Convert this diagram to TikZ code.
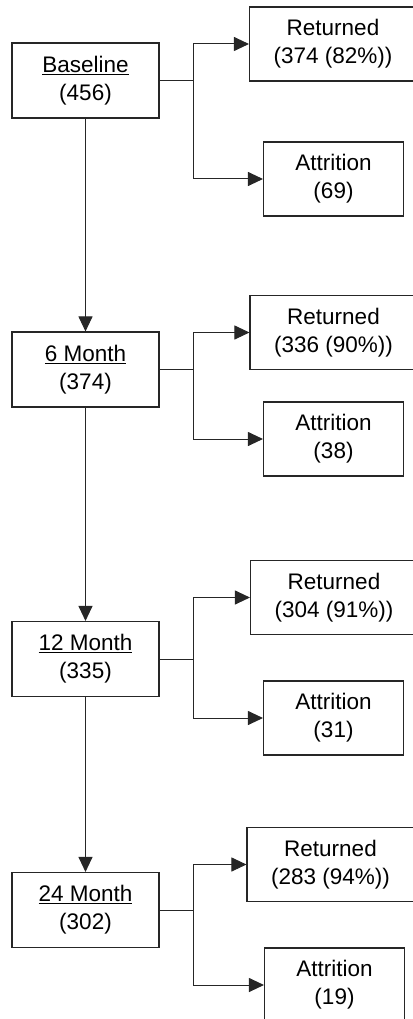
\documentclass[tikz,border=0pt]{standalone}
\usepackage{fontspec}
\setmainfont{Liberation Sans}
\usetikzlibrary{arrows.meta}
\begin{document}
\begin{tikzpicture}[x=1pt,y=-1pt,
  box/.style={draw=black!85,line width=1.1pt,rectangle,align=center,inner sep=0pt,
    font=\fontsize{22.5}{28}\selectfont},
  mainbox/.style={box,minimum width=147pt,minimum height=75pt},
  retbox/.style={box,minimum width=167pt,minimum height=74pt},
  attbox/.style={box,minimum width=140pt,minimum height=74pt},
  conn/.style={draw=black!85,line width=1pt},
  arr/.style={conn,-{Triangle[length=15pt,width=14pt]}}]
\useasboundingbox (0,0) rectangle (412,1019);
% main boxes
\node[mainbox] (m1) at (85.5,80.5) {\underline{Baseline}\\(456)};
\node[mainbox] (m2) at (85.5,369.5) {\underline{6 Month}\\(374)};
\node[mainbox] (m3) at (85.5,659) {\underline{12 Month}\\(335)};
\node[mainbox] (m4) at (85.5,910) {\underline{24 Month}\\(302)};
% returned boxes
\node[retbox] (r1) at (333,44) {Returned\\(374 (82\%))};
\node[retbox] (r2) at (333.5,332.5) {Returned\\(336 (90\%))};
\node[retbox] (r3) at (334,597.5) {Returned\\(304 (91\%))};
\node[retbox] (r4) at (330.5,864.5) {Returned\\(283 (94\%))};
% attrition boxes
\node[attbox] (a1) at (333.5,179) {Attrition\\(69)};
\node[attbox] (a2) at (333.5,439) {Attrition\\(38)};
\node[attbox] (a3) at (333.5,718) {Attrition\\(31)};
\node[attbox] (a4) at (334.5,985) {Attrition\\(19)};
% vertical arrows
\draw[arr] (m1.south) -- (m2.north);
\draw[arr] (m2.south) -- (m3.north);
\draw[arr] (m3.south) -- (m4.north);
% branches
\foreach \i in {1,2,3,4}{
  \draw[conn] (m\i.east) -- ++(34,0) coordinate (j\i);
  \draw[arr] (j\i) |- (r\i.west);
  \draw[arr] (j\i) |- (a\i.west);
}
\end{tikzpicture}
\end{document}
